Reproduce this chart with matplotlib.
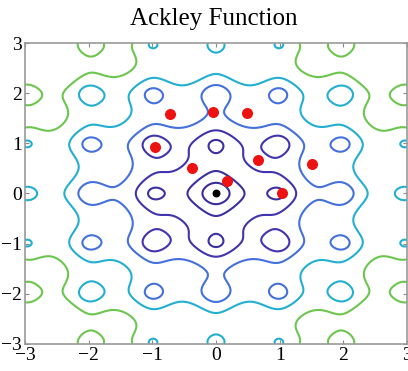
import numpy as np
import matplotlib
matplotlib.use("Agg")
import matplotlib.pyplot as plt

# contour levels (6 evenly spaced levels) and their colours
levels = [1.46, 2.92, 4.38, 5.84, 7.30, 8.76]
level_colors = ['#3a2d99', '#3c2f9f', '#4234ad', '#4470dc', '#22afd0', '#6cc64e']

# red particles
px = [-0.72, -0.05, 0.48, -0.96, -0.37, 0.18, 0.66, 1.04, 1.51]
py = [1.59, 1.62, 1.60, 0.93, 0.50, 0.24, 0.67, 0.00, 0.59]

# global minimum
best_x = [0.0]
best_y = [0.0]

ticks = [-3, -2, -1, 0, 1, 2, 3]


def ackley(x, y):
    a = -20 * np.exp(-0.2 * np.sqrt(0.5 * (x**2 + y**2)))
    b = -np.exp(0.5 * (np.cos(2 * np.pi * x) + np.cos(2 * np.pi * y)))
    return a + b + np.e + 20


g = np.linspace(-3, 3, 401)
X, Y = np.meshgrid(g, g)
Z = ackley(X, Y)

plt.rcParams['font.family'] = ['Liberation Serif', 'DejaVu Serif']

fig = plt.figure(figsize=(4.08, 3.71), dpi=100)
ax = fig.add_axes([25 / 408, 27 / 371, 382 / 408, 301 / 371])

ax.contour(X, Y, Z, levels=levels, colors=level_colors, linewidths=1.5)
ax.scatter(px, py, s=48, c='#ee1111', zorder=3)
ax.scatter(best_x, best_y, s=22, c='black', zorder=4)

ax.set_xlim(-3, 3)
ax.set_ylim(-3, 3)
ax.set_xticks(ticks)
ax.set_yticks(ticks)
ax.tick_params(direction='in', length=3, color='#888888', labelsize=14,
               top=True, right=True, pad=2)
for s in ax.spines.values():
    s.set_color('#999999')
    s.set_linewidth(1.2)

fig.text(0.525, 0.948, 'Ackley Function', ha='center', va='center', fontsize=18)

fig.savefig('out.png', dpi=100)
